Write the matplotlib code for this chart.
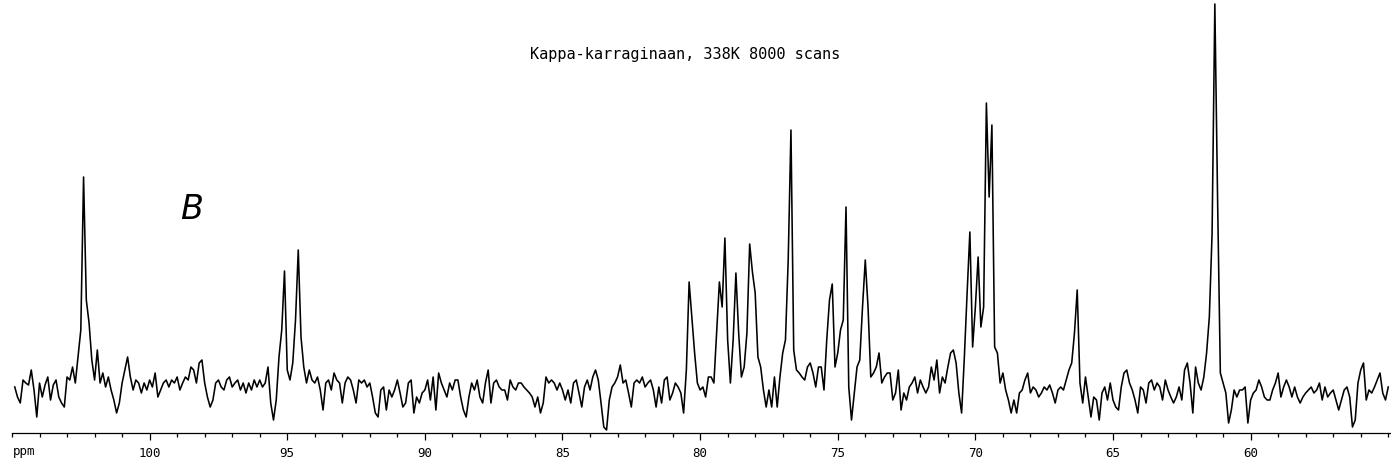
import numpy as np
import matplotlib
matplotlib.use("Agg")
import matplotlib.pyplot as plt
from matplotlib.ticker import MultipleLocator

# 13C spectrum, one value every 0.1 ppm from 104.9 down to 55.0
start_ppm = 104.9
step_ppm = 0.1
intensity = [
    3, -7, -13, 10, 7, 5, 20, 0, -27, 7, -7, 5, 13, -10, 5, 10, -7, -13, -17, 13, 10, 23, 7,
    33, 60, 213, 90, 67, 30,
    10, 40, 7, 17, 3, 13, 0, -10, -23, -13, 7, 20,
    33, 13, 0, 10, 7, -3, 7, 0, 10, 3,
    17, -7, 0, 7, 10, 3, 10, 7, 13, 0,
    7, 13, 10, 23, 20, 7, 27, 30, 7, -7,
    -17, -10, 7, 10, 3, 0, 10, 13, 3, 7,
    10, 0, 7, -3, 7, 0, 10, 3, 10, 3,
    7, 23, -13, -30, -10, 33, 60, 119, 20, 10,
    27, 70, 140, 53, 23, 7, 20, 10, 7, 13,
    0, -20, 7, 10, 0, 17, 10, 7, -13, 7, 13,
    10, 0, -13, 10, 7, 10, 3, 7, -7, -23,
    -27, 0, 3, -20, 0, -7, 0, 10, -3, -17,
    -13, 7, 10, -23, -7, -13, -3, 0, 10, -10,
    13, -20, 17, 7, 0, -7, 7, 0, 10, 10,
    -7, -20, -27, -7, 7, 0, 10, -7, -13, 7,
    20, -13, 7, 10, 3, 0, 0, -10, 10, 3,
    0, 7, 7, 3, 0, -3, -7, -17, -7, -23,
    -13, 13, 7, 10, 7, 0, 7, 0, -10, 0,
    -13, 7, 10, -3, -17, 3, 10, 0, 13, 20,
    10, -13, -37, -40, -10, 3, 7, 13, 25, 7,
    10, -3, -17, 7, 10, 7, 13, 3, 7, 10,
    0, -17, 3, -13, 10, 13, -10, -3, 7, 3,
    -3, -23, 20, 108, 73, 37, 7, 0, 3, -7,
    13, 13, 7, 57, 108, 83, 152, 50, 7, 50,
    117, 57, 13, 23, 57, 146, 118, 97, 33, 23,
    0, -17, 0, -17, 13, -17, 13, 37, 50, 130,
    260, 40, 20, 17, 13, 10, 23, 27, 17, 3,
    23, 23, 0, 50, 90, 106, 23, 37, 60, 70,
    183, 3, -30, -3, 23, 30, 83, 130, 83, 13,
    17, 23, 37, 7, 13, 17, 17, -10, -3, 20,
    -20, -3, -10, 3, 7, 13, -3, 10, 3, -3,
    3, 23, 10, 30, -3, 13, 7, 23, 37, 40,
    27, -3, -23, 33, 97, 158, 43, 83, 133, 63,
    83, 287, 193, 265, 43, 37, 7, 17, 0, -10,
    -23, -10, -23, -3, 0, 10, 17, -3, 3, 0, -7,
    -3, 3, 0, 5, -3, -13, 0, 3, 0, 10,
    20, 27, 57, 100, 7, -13, 13, -7, -27, -7,
    -10, -30, -3, 3, -10, 7, -10, -17, -20, 3,
    17, 20, 7, 0, -10, -23, 3, 0, -13, 7,
    10, 0, 7, 3, -10, 10, 0, -7, -13, -7,
    3, -10, 20, 27, 7, -23, 23, 7, 0, 13,
    37, 73, 157, 386, 190, 17, 7, -3, -33, -20,
    0, -7, 0, 0, 3, -33, -10, -3, 0, 10,
    3, -7, -10, -10, 0, 7, 17, -7, 3, 10,
    3, -7, 3, -7, -13, -7, -3, 0, 3, -3,
    0, 7, -10, 3, -7, -3, 0, -10, -20, -10,
    0, 3, -7, -37, -30, 7, 20, 27, -10, 0,
    -3, 3, 10, 17, -3, -10, 3,
]
ppm = start_ppm - step_ppm * np.arange(len(intensity))

major_ticks = [100, 95, 90, 85, 80, 75, 70, 65, 60]
title = "Kappa-karraginaan, 338K 8000 scans"

W, H = 1391, 472
fig = plt.figure(figsize=(W / 100, H / 100), dpi=100)
ax = fig.add_axes([12 / W, (H - 433) / H, (W - 12) / W, 433 / H])

ax.plot(ppm, intensity, color="black", lw=1.15)

ax.set_xlim(105.0, 54.9)
ax.set_ylim(-43, 390)

for s in ["top", "left", "right"]:
    ax.spines[s].set_visible(False)
ax.spines["bottom"].set_linewidth(0.9)
ax.set_yticks([])

ax.set_xticks(major_ticks)
ax.set_xticklabels([str(t) for t in major_ticks], family="DejaVu Sans Mono", fontsize=9)
ax.xaxis.set_minor_locator(MultipleLocator(1))
ax.tick_params(axis="x", which="major", direction="out", length=5, width=0.9, pad=5)
ax.tick_params(axis="x", which="minor", direction="out", length=3, width=0.9)

fig.text(13 / W, 1 - 452 / H, "ppm", family="DejaVu Sans Mono", fontsize=9,
         ha="left", va="center")
fig.text(685 / W, 1 - 55 / H, title, family="DejaVu Sans Mono", fontsize=11,
         ha="center", va="center")
# handwritten label on the original plot
fig.text(192 / W, 1 - 210 / H, "B", fontsize=24, style="italic", ha="center", va="center")

fig.savefig("out.png", dpi=100)
